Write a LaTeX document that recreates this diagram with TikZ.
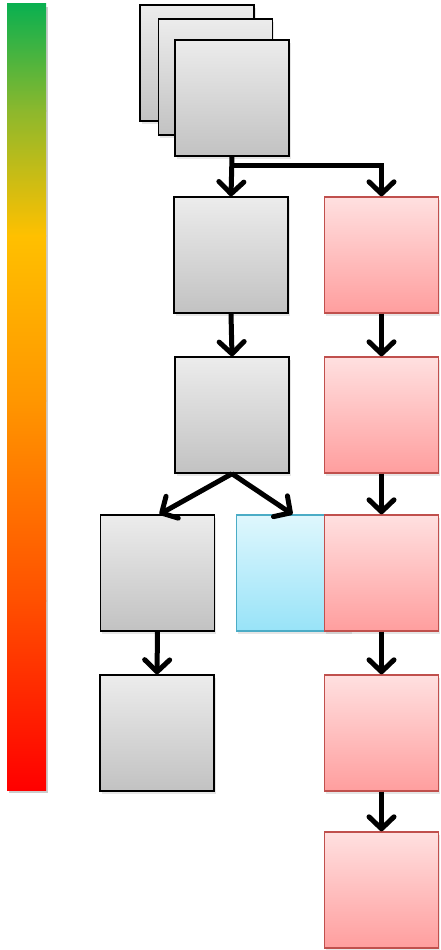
\documentclass[tikz,border=0pt]{standalone}
\usetikzlibrary{arrows.meta,shadows}

\definecolor{heatA}{RGB}{10,176,80}
\definecolor{heatB}{RGB}{140,184,45}
\definecolor{heatC}{RGB}{255,192,0}
\definecolor{heatD}{RGB}{255,150,0}
\definecolor{heatE}{RGB}{255,80,0}
\definecolor{heatF}{RGB}{255,0,0}

\definecolor{greytop}{RGB}{236,236,236}
\definecolor{greybot}{RGB}{194,194,194}
\definecolor{redtop}{RGB}{255,224,224}
\definecolor{redbot}{RGB}{255,158,158}
\definecolor{redline}{RGB}{192,80,77}
\definecolor{bluetop}{RGB}{223,247,253}
\definecolor{bluebot}{RGB}{152,227,248}
\definecolor{blueline}{RGB}{75,172,198}

\tikzset{
  softshadow/.style={drop shadow={opacity=0.2, shadow xshift=1.5pt, shadow yshift=-3pt}},
  box/.style={rectangle, inner sep=0pt, minimum width=114pt, minimum height=116pt,
    shading=axis, line width=1.4pt, softshadow},
  greybox/.style={box, draw=black, top color=greytop, bottom color=greybot},
  redbox/.style={box, draw=redline, top color=redtop, bottom color=redbot},
  bluebox/.style={box, draw=blueline, top color=bluetop, bottom color=bluebot},
  link/.style={line width=5pt},
  arr/.style={link, -{Straight Barb[length=12pt, width=25pt, line width=5pt, round]}},
}

\begin{document}
\begin{tikzpicture}[x=1pt, y=-1pt]
  \useasboundingbox (0,0) rectangle (440,950);

  % colour scale bar, built from stacked gradient bands
  \fill[black, opacity=0.2] (8.5,7) rectangle (47.5,793);
  \shade[top color=heatA, bottom color=heatB] (7,4) rectangle (46,111);
  \shade[top color=heatB, bottom color=heatC] (7,110) rectangle (46,236);
  \shade[top color=heatC, bottom color=heatD] (7,235) rectangle (46,401);
  \shade[top color=heatD, bottom color=heatE] (7,400) rectangle (46,601);
  \shade[top color=heatE, bottom color=heatF] (7,600) rectangle (46,790);

  % stack of input frames
  \node[greybox] (s1) at (197,63) {};
  \node[greybox] (s2) at (215.5,77) {};
  \node[greybox] (s3) at (232,98) {};

  % left column
  \node[greybox] (g1) at (231,255) {};
  \node[greybox] (g2) at (232,415) {};
  \node[greybox] (g3) at (157.5,573) {};
  \node[greybox] (g4) at (157,733) {};

  % branch box, partly covered by the right column
  \node[bluebox] (b3) at (293.5,573) {};

  % right column
  \node[redbox] (r1) at (381.5,255) {};
  \node[redbox] (r2) at (381.5,415) {};
  \node[redbox] (r3) at (381.5,573) {};
  \node[redbox] (r4) at (381.5,733) {};
  \node[redbox] (r5) at (381.5,890) {};

  % connectors
  \draw[arr] (s3.south) -- (g1.north);
  \coordinate (fork) at ([yshift=-9pt]s3.south);
  \draw[link, line cap=butt] ([xshift=-2.5pt]fork) -- ([xshift=2.5pt]fork -| r1.north);
  \draw[arr] ([yshift=2.5pt]fork -| r1.north) -- (r1.north);
  \draw[arr] (g1.south) -- (g2.north);
  \draw[arr] (g2.south) -- ([xshift=2pt]g3.north);
  \draw[arr] (g2.south) -- ([xshift=-1pt]b3.north);
  \draw[arr] (g3.south) -- (g4.north);
  \draw[arr] (r1.south) -- (r2.north);
  \draw[arr] (r2.south) -- (r3.north);
  \draw[arr] (r3.south) -- (r4.north);
  \draw[arr] (r4.south) -- (r5.north);
\end{tikzpicture}
\end{document}
